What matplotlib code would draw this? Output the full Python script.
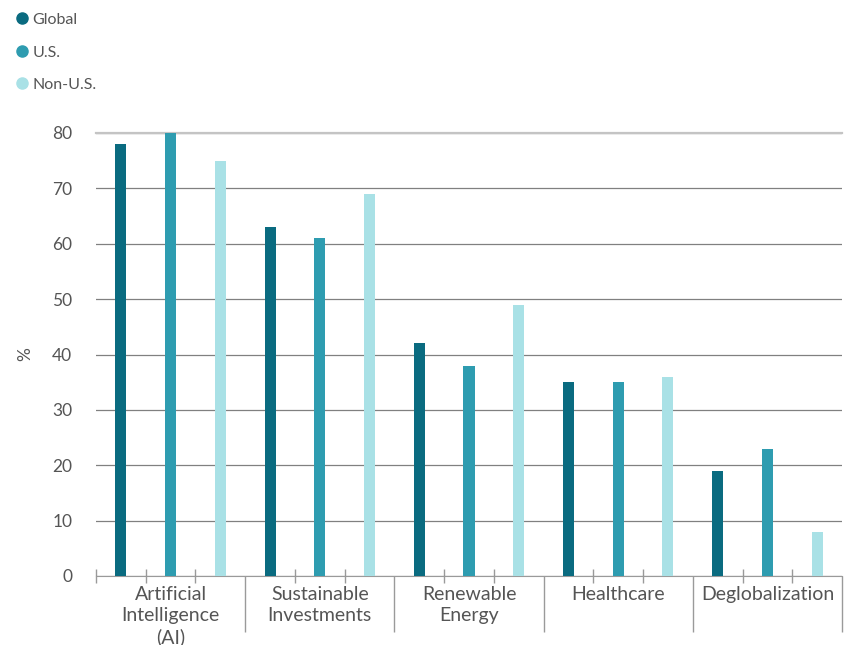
import numpy as np
import matplotlib
matplotlib.use("Agg")
from matplotlib import pyplot as plt
from matplotlib.lines import Line2D

plt.rcParams['font.family'] = ['Lato', 'DejaVu Sans']

# data
categories = ["Artificial\nIntelligence\n(AI)", "Sustainable\nInvestments", "Renewable\nEnergy",
              "Healthcare", "Deglobalization"]
series_names = ["Global", "U.S.", "Non-U.S."]
global_vals = [78, 63, 42, 35, 19]
us_vals = [80, 61, 38, 35, 23]
nonus_vals = [75, 69, 49, 36, 8]
colors = ["#0a6b80", "#2e9cb0", "#a9e1e6"]
yticks = [0, 10, 20, 30, 40, 50, 60, 70, 80]

text_col = "#555555"
axis_col = "#9a9a9a"

fig = plt.figure(figsize=(8.48, 6.45), dpi=100)
ax = fig.add_axes([96/848, 1-576/645, (842-96)/848, (576-133)/645])

x = np.arange(len(categories))
offsets = [1/6, 1/2, 5/6]
w = 0.074
for vals, off, c, name in zip([global_vals, us_vals, nonus_vals], offsets, colors, series_names):
    ax.bar(x + off, vals, width=w, color=c, zorder=3, label=name)

ax.set_xlim(0, len(categories))
ax.set_ylim(0, 80)
ax.set_yticks(yticks)
ax.tick_params(axis='y', length=0, labelsize=12.5, labelcolor=text_col, pad=17)
ax.yaxis.grid(True, color="#808080", lw=0.9, zorder=0)
ax.set_axisbelow(True)

# group separators (long) and third ticks (short)
ax.set_xticks(np.arange(1, len(categories) + 1))
ax.set_xticklabels([])
ax.set_xticks(np.arange(0, len(categories) * 3 + 1) / 3, minor=True)
ax.tick_params(axis='x', which='major', direction='out', length=40, color=axis_col, width=1)
ax.tick_params(axis='x', which='minor', direction='inout', length=10, color=axis_col, width=1)

for s in ["left", "right"]:
    ax.spines[s].set_visible(False)
ax.spines["bottom"].set_color(axis_col)
ax.spines["top"].set_color("#c4c4c4")
ax.spines["top"].set_linewidth(1.6)

for i, cat in enumerate(categories):
    ax.text(i + 0.5, -1.8, cat, ha='center', va='top', fontsize=14, color=text_col,
            linespacing=1.28)

ax.set_ylabel("%", fontsize=12.5, color=text_col, labelpad=14)

handles = [Line2D([], [], marker='o', linestyle='none', markersize=8, color=c) for c in colors]
fig.legend(handles, series_names, loc='upper left', bbox_to_anchor=(0.0, 1.0),
           frameon=False, fontsize=11.5, labelcolor=text_col, handletextpad=0.05,
           labelspacing=1.15, borderaxespad=0.4, handlelength=1.2)

fig.savefig("out.png", dpi=100)
